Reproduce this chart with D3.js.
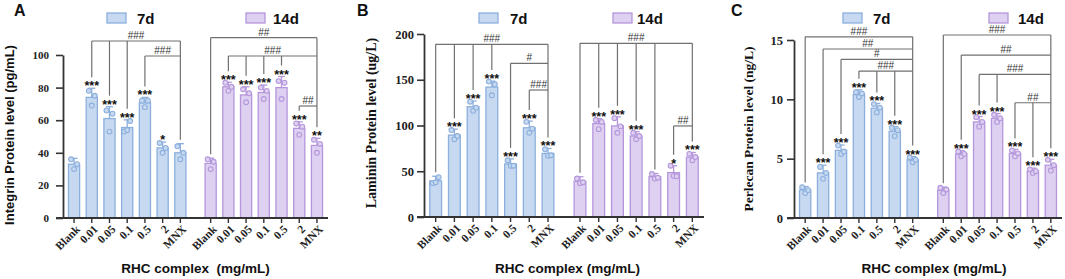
<!DOCTYPE html>
<html>
<head>
<meta charset="utf-8">
<script src="https://cdn.jsdelivr.net/npm/d3@7"></script>
<style>
  body { margin: 0; background: #fff; }
  svg { display: block; }
</style>
</head>
<body>
<svg id="chart" width="1065" height="279"></svg>
<script>
const concentrations = ["Blank", "0.01", "0.05", "0.1", "0.5", "2", "MNX"];
const days = ["7d", "14d"];

// A - Integrin (pg/mL)
const integrinMean7 = [33, 74, 61, 55.5, 70.7, 43, 40];
const integrinSd7 = [3.6, 5.6, 7.3, 4.7, 3.3, 3.6, 5.6];
const integrinPts7 = [[36, 30, 33], [78, 69, 75], [66, 53, 64], [53, 54, 59.5], [72, 68, 72], [46, 40, 43], [44, 36, 40]];
const integrinMean14 = [33.5, 80.5, 75.5, 77, 80, 55, 44.5];
const integrinSd14 = [3.2, 2.8, 5, 4.6, 6.8, 4, 4.4];
const integrinPts14 = [[36, 30, 34.5], [83, 78, 80.5], [79, 71, 76.5], [80, 73, 78], [84, 73, 83], [58, 51, 56], [48, 40, 45.5]];
const integrinStars7 = ["", "***", "***", "***", "***", "*", ""];
const integrinStars14 = ["", "***", "***", "***", "***", "***", "**"];
const integrinBrackets7 = [
  {from: ["0.01", "0.05", "0.1"], label: "###", level: 108.6},
  {from: ["0.5"], label: "###", level: 99.4}
];
const integrinBrackets14 = [
  {from: ["Blank"], label: "##", level: 110.6},
  {from: ["0.01", "0.05", "0.1", "0.5"], label: "###", level: 99.4},
  {from: ["2"], label: "##", level: 68.7}
];

// B - Laminin (ug/L)
const lamininMean7 = [39.5, 89.5, 120.5, 142, 58, 97.5, 69.5];
const lamininSd7 = [5, 6.5, 6.3, 6.5, 5.5, 7.3, 5.4];
const lamininPts7 = [[37, 38, 43.5], [95, 85, 88.5], [126, 116, 119.5], [148, 133, 145], [62, 56, 56], [104, 92, 96.5], [74, 67, 67.5]];
const lamininMean14 = [39, 102, 99.5, 88.5, 44, 48.5, 65.5];
const lamininSd14 = [5, 5.5, 10, 4.8, 3.5, 7.5, 5];
const lamininPts14 = [[42, 37, 38], [106, 96, 104], [108, 92, 99], [92, 85, 88.5], [47, 42, 43], [56, 45, 44.5], [69, 62, 65.5]];
const lamininStars7 = ["", "***", "***", "***", "***", "***", "***"];
const lamininStars14 = ["", "***", "***", "***", "", "*", "***"];
const lamininBrackets7 = [
  {from: ["Blank", "0.01", "0.05", "0.1"], label: "###", level: 188.7},
  {from: ["0.5"], label: "#", level: 168},
  {from: ["2"], label: "###", level: 138.8}
];
const lamininBrackets14 = [
  {from: ["Blank", "0.01", "0.05", "0.1", "0.5"], label: "###", level: 189.8},
  {from: ["2"], label: "##", level: 99.5}
];

// C - Perlecan (ng/L)
const perlecanMean7 = [2.35, 3.8, 5.7, 10.4, 9.25, 7.3, 4.9];
const perlecanSd7 = [0.3, 0.65, 0.45, 0.4, 0.4, 0.4, 0.28];
const perlecanPts7 = [[2.6, 2.1, 2.35], [4.3, 3.3, 3.8], [6.1, 5.4, 5.6], [10.6, 10.2, 10.5], [9.6, 8.9, 9.3], [7.6, 6.9, 7.4], [5.1, 4.7, 4.9]];
const perlecanMean14 = [2.35, 5.4, 8.1, 8.4, 5.45, 3.95, 4.45];
const perlecanSd14 = [0.25, 0.27, 0.45, 0.4, 0.33, 0.25, 0.5];
const perlecanPts14 = [[2.55, 2.1, 2.4], [5.6, 5.2, 5.4], [8.5, 7.7, 8.1], [8.7, 8.1, 8.4], [5.7, 5.2, 5.45], [4.1, 3.8, 3.95], [4.9, 4.0, 4.45]];
const perlecanStars7 = ["", "***", "***", "***", "***", "***", "***"];
const perlecanStars14 = ["", "***", "***", "***", "***", "***", "***"];
const perlecanBrackets7 = [
  {from: ["Blank"], label: "###", level: 15.27},
  {from: ["0.01"], label: "##", level: 14.24},
  {from: ["0.05"], label: "#", level: 13.37},
  {from: ["0.1", "0.5", "2"], label: "###", level: 12.38}
];
const perlecanBrackets14 = [
  {from: ["Blank"], label: "###", level: 15.42},
  {from: ["0.01"], label: "##", level: 13.73},
  {from: ["0.05", "0.1"], label: "###", level: 12.1},
  {from: ["0.5", "2"], label: "##", level: 9.71}
];

const yTicksA = [0, 20, 40, 60, 80, 100];
const yTicksB = [0, 50, 100, 150, 200];
const yTicksC = [0, 5, 10, 15];

const fills = {"7d": "#c6d9f0", "14d": "#ddd0f0"};
const strokes = {"7d": "#8cafdd", "14d": "#b596dc"};
const SANS = "'Liberation Sans', Arial, sans-serif";
const SERIF = "'Liberation Serif', 'Times New Roman', serif";

const panels = [
  {
    letter: "A", letterX: 14,
    yTitle: "Integrin Protein level (pg/mL)", yTitleFont: SANS, yTitleSize: 13, yTitleX: 9, yTitleY: 135,
    xTitle: "RHC complex  (mg/mL)", xTitleX: 195.5,
    left: 63, right: 328, bottom: 218, top: 55, yMax: 100, yTicks: yTicksA, tickFont: 11, tickPad: 7,
    legend: {"7d": 107, "14d": 246}, legendText: {"7d": 137, "14d": 273},
    mean: {"7d": integrinMean7, "14d": integrinMean14},
    sd: {"7d": integrinSd7, "14d": integrinSd14},
    pts: {"7d": integrinPts7, "14d": integrinPts14},
    stars: {"7d": integrinStars7, "14d": integrinStars14},
    brackets: {"7d": integrinBrackets7, "14d": integrinBrackets14}
  },
  {
    letter: "B", letterX: 357,
    yTitle: "Laminin Protein level (ug/L)", yTitleFont: SERIF, yTitleSize: 14, yTitleX: 371, yTitleY: 123,
    xTitle: "RHC complex (mg/mL)", xTitleX: 567.5,
    left: 424, right: 704, bottom: 217, top: 34, yMax: 200, yTicks: yTicksB, tickFont: 12.5, tickPad: 3,
    legend: {"7d": 479, "14d": 613}, legendText: {"7d": 510, "14d": 637},
    mean: {"7d": lamininMean7, "14d": lamininMean14},
    sd: {"7d": lamininSd7, "14d": lamininSd14},
    pts: {"7d": lamininPts7, "14d": lamininPts14},
    stars: {"7d": lamininStars7, "14d": lamininStars14},
    brackets: {"7d": lamininBrackets7, "14d": lamininBrackets14}
  },
  {
    letter: "C", letterX: 731,
    yTitle: "Perlecan Protein level (ng/L)", yTitleFont: SERIF, yTitleSize: 13.5, yTitleX: 748, yTitleY: 129,
    xTitle: "RHC complex (mg/mL)", xTitleX: 934,
    left: 794, right: 1062, bottom: 218, top: 40, yMax: 15, yTicks: yTicksC, tickFont: 12.5, tickPad: 4,
    legend: {"7d": 843, "14d": 989}, legendText: {"7d": 873, "14d": 1018},
    mean: {"7d": perlecanMean7, "14d": perlecanMean14},
    sd: {"7d": perlecanSd7, "14d": perlecanSd14},
    pts: {"7d": perlecanPts7, "14d": perlecanPts14},
    stars: {"7d": perlecanStars7, "14d": perlecanStars14},
    brackets: {"7d": perlecanBrackets7, "14d": perlecanBrackets14}
  }
];

const svg = d3.select("#chart");
const dotOffsets = [-3, 0, 3];

function drawPanel(p) {
  const g = svg.append("g");

  const xDay = d3.scaleBand().domain(days).range([p.left, p.right]).paddingInner(0.14).paddingOuter(0.04);
  const xConc = d3.scaleBand().domain(concentrations).range([0, xDay.bandwidth()]).paddingInner(0.37);
  const y = d3.scaleLinear().domain([0, p.yMax]).range([p.bottom, p.top]);
  const cx = (day, c) => xDay(day) + xConc(c) + xConc.bandwidth() / 2;

  // bars, error bars, dots
  days.forEach(day => {
    const rows = concentrations.map((c, i) => ({
      c, mean: p.mean[day][i], sd: p.sd[day][i], pts: p.pts[day][i], star: p.stars[day][i]
    }));
    const bg = g.append("g");

    bg.selectAll("rect.bar").data(rows).enter().append("rect")
      .attr("class", "bar")
      .attr("x", d => xDay(day) + xConc(d.c))
      .attr("y", d => y(d.mean))
      .attr("width", xConc.bandwidth())
      .attr("height", d => y(0) - y(d.mean))
      .attr("fill", fills[day])
      .attr("stroke", strokes[day])
      .attr("stroke-width", 1.3);

    bg.selectAll("line.err").data(rows).enter().append("line")
      .attr("x1", d => cx(day, d.c)).attr("x2", d => cx(day, d.c))
      .attr("y1", d => y(d.mean)).attr("y2", d => y(d.mean + d.sd))
      .attr("stroke", strokes[day]).attr("stroke-width", 1.3);
    bg.selectAll("line.cap").data(rows).enter().append("line")
      .attr("x1", d => cx(day, d.c) - 3.5).attr("x2", d => cx(day, d.c) + 3.5)
      .attr("y1", d => y(d.mean + d.sd)).attr("y2", d => y(d.mean + d.sd))
      .attr("stroke", strokes[day]).attr("stroke-width", 1.3);

    rows.forEach(d => {
      bg.selectAll(null).data(d.pts).enter().append("circle")
        .attr("cx", (v, k) => cx(day, d.c) + dotOffsets[k])
        .attr("cy", v => y(v))
        .attr("r", 2.4)
        .attr("fill", fills[day])
        .attr("stroke", strokes[day])
        .attr("stroke-width", 1.1);
    });

    bg.selectAll("text.star").data(rows.filter(d => d.star)).enter().append("text")
      .attr("x", d => cx(day, d.c))
      .attr("y", d => y(d.mean + d.sd) + 2)
      .attr("text-anchor", "middle")
      .attr("font-family", SANS).attr("font-weight", "bold").attr("font-size", 12.5)
      .attr("fill", "#111")
      .text(d => d.star);

    // comparison brackets against MNX
    const endY = c => {
      const i = concentrations.indexOf(c);
      const capY = y(p.mean[day][i] + p.sd[day][i]);
      return capY - (p.stars[day][i] ? 11 : 4);
    };
    const xr = cx(day, "MNX");
    const brackets = p.brackets[day];
    const topLevel = d3.max(brackets, b => b.level);
    const lg = g.append("g").attr("stroke", "#707070").attr("stroke-width", 1.2).attr("fill", "none");
    lg.append("line").attr("x1", xr).attr("x2", xr).attr("y1", y(topLevel)).attr("y2", endY("MNX"));
    brackets.forEach(b => {
      const xl = cx(day, b.from[0]);
      lg.append("line").attr("x1", xl).attr("x2", xr).attr("y1", y(b.level)).attr("y2", y(b.level));
      b.from.forEach(c => {
        lg.append("line").attr("x1", cx(day, c)).attr("x2", cx(day, c))
          .attr("y1", y(b.level)).attr("y2", endY(c));
      });
      g.append("text")
        .attr("x", (xl + xr) / 2).attr("y", y(b.level) - 2)
        .attr("text-anchor", "middle")
        .attr("font-family", SANS).attr("font-size", 10)
        .attr("fill", "#333")
        .text(b.label);
    });
  });

  // y axis
  const yAxis = g.append("g")
    .attr("transform", `translate(${p.left},0)`)
    .call(d3.axisLeft(y).tickValues(p.yTicks).tickSize(7).tickPadding(p.tickPad).tickSizeOuter(0));
  yAxis.select(".domain").attr("stroke", "#333").attr("stroke-width", 1.8);
  yAxis.selectAll(".tick line").attr("stroke", "#333").attr("stroke-width", 1.6);
  yAxis.selectAll(".tick text")
    .attr("font-family", SERIF).attr("font-weight", "bold").attr("font-size", p.tickFont).attr("fill", "#222");

  // x axis
  const xg = g.append("g");
  xg.append("line")
    .attr("x1", p.left - 7).attr("x2", p.right)
    .attr("y1", p.bottom).attr("y2", p.bottom)
    .attr("stroke", "#333").attr("stroke-width", 1.8);
  const xTicks = days.flatMap(day => concentrations.map(c => ({day, c})));
  xg.selectAll("line.xt").data(xTicks).enter().append("line")
    .attr("x1", d => cx(d.day, d.c)).attr("x2", d => cx(d.day, d.c))
    .attr("y1", p.bottom).attr("y2", p.bottom + 5)
    .attr("stroke", "#333").attr("stroke-width", 1.4);
  xg.selectAll("text.xl").data(xTicks).enter().append("text")
    .attr("transform", d => `translate(${cx(d.day, d.c) + 4},${p.bottom + 9}) rotate(-45)`)
    .attr("text-anchor", "end")
    .attr("dy", "0.35em")
    .attr("font-family", SERIF).attr("font-weight", "bold").attr("font-size", 11.5)
    .attr("fill", "#222")
    .text(d => d.c);

  // titles
  g.append("text")
    .attr("transform", `translate(${p.yTitleX},${p.yTitleY}) rotate(-90)`)
    .attr("text-anchor", "middle").attr("dy", "0.35em")
    .attr("font-family", p.yTitleFont).attr("font-weight", "bold").attr("font-size", p.yTitleSize)
    .attr("fill", "#111")
    .text(p.yTitle);
  g.append("text")
    .attr("x", p.xTitleX).attr("y", 273)
    .attr("text-anchor", "middle")
    .style("white-space", "pre")
    .attr("font-family", SANS).attr("font-weight", "bold").attr("font-size", 13.5).attr("fill", "#111")
    .text(p.xTitle);
  g.append("text")
    .attr("x", p.letterX).attr("y", 16)
    .attr("font-family", SANS).attr("font-weight", "bold").attr("font-size", 16)
    .attr("fill", "#111")
    .text(p.letter);

  // legend
  days.forEach(day => {
    g.append("rect")
      .attr("x", p.legend[day]).attr("y", 13).attr("width", 19).attr("height", 10)
      .attr("fill", fills[day]).attr("stroke", strokes[day]).attr("stroke-width", 1.3);
    g.append("text")
      .attr("x", p.legendText[day]).attr("y", 24)
      .attr("font-family", SANS).attr("font-weight", "bold").attr("font-size", 15)
      .attr("fill", "#111")
      .text(day);
  });
}

panels.forEach(drawPanel);
</script>
</body>
</html>
